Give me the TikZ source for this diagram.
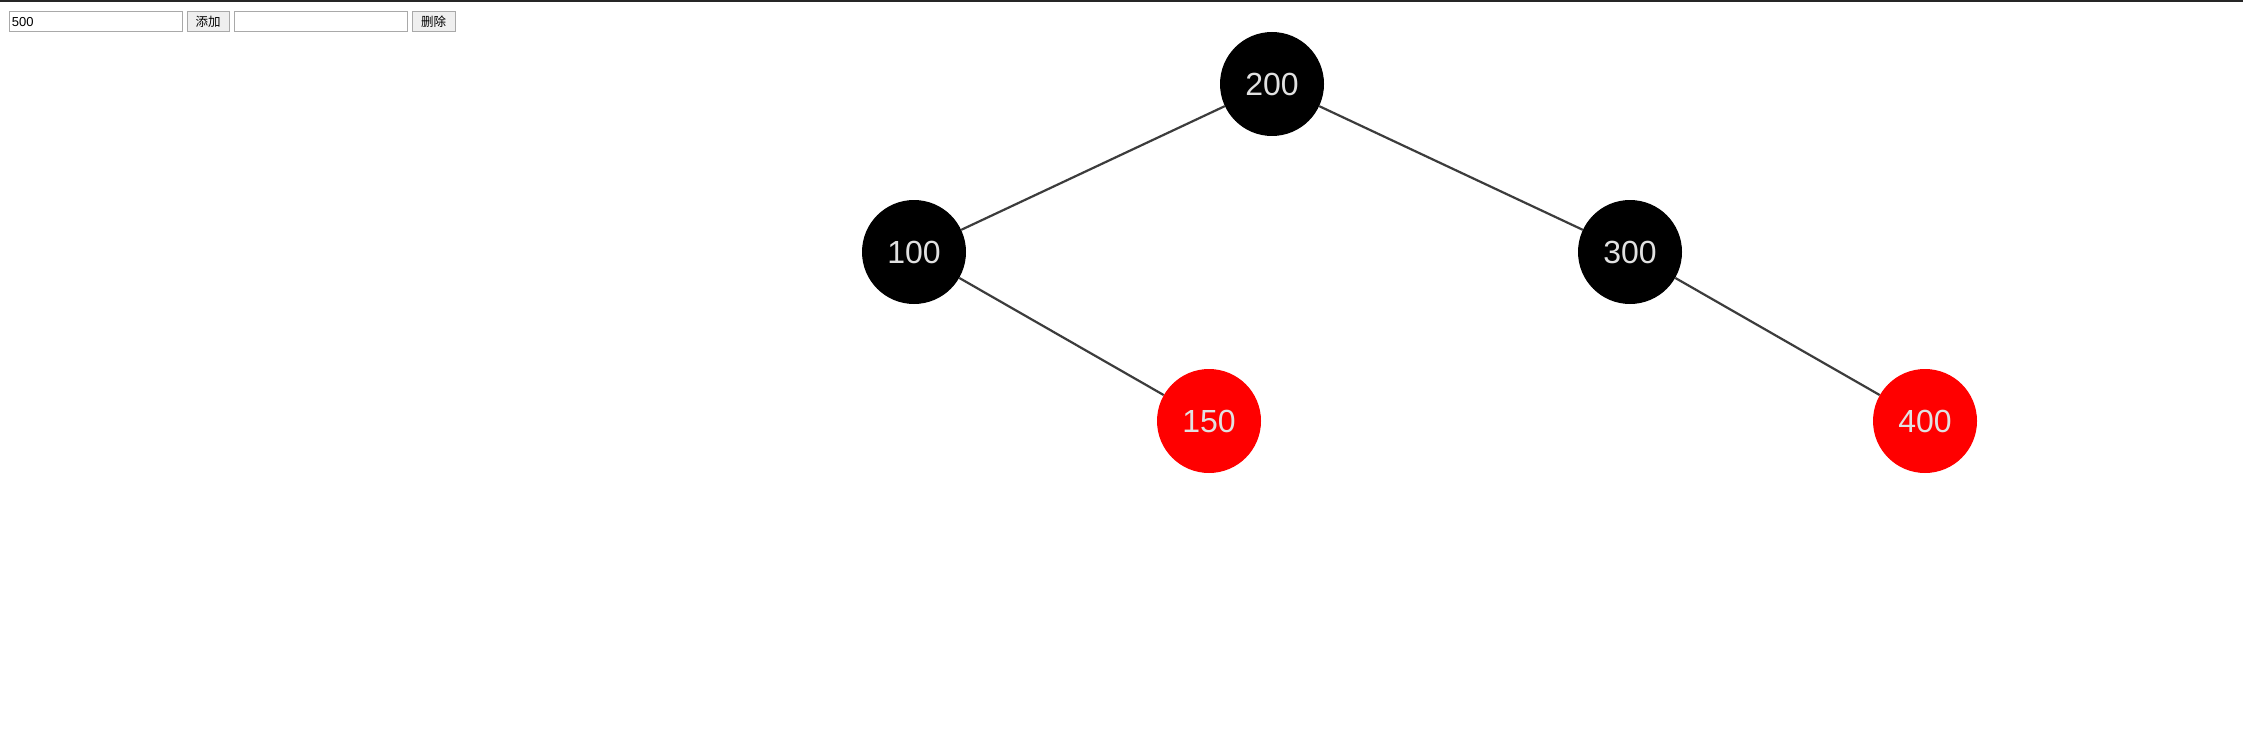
\documentclass[tikz,border=0pt]{standalone}
\usepackage{fontspec}
\setmainfont{Liberation Sans}
\newfontfamily\cjk{Noto Sans CJK SC}
\usetikzlibrary{backgrounds}
\definecolor{edgegray}{RGB}{60,60,60}
\definecolor{boxgray}{RGB}{169,169,169}
\definecolor{btnfill}{RGB}{239,239,239}
\definecolor{keytext}{RGB}{225,225,225}

\begin{document}
\begin{tikzpicture}[x=1pt,y=-1pt,
    rbnode/.style={circle,minimum size=104pt,inner sep=0pt,text=keytext,font=\fontsize{32}{32}\selectfont},
    blacknode/.style={rbnode,fill=black},
    rednode/.style={rbnode,fill=red},
    inputbox/.style={draw=boxgray,line width=1pt,fill=white,minimum width=173pt,minimum height=20pt,inner sep=2pt,text width=167pt,align=left,font=\fontsize{13}{13}\selectfont},
    btnbox/.style={draw=boxgray,line width=1pt,fill=btnfill,minimum height=20pt,inner sep=0pt,font=\cjk\fontsize{12.5}{13}\selectfont}]
            \useasboundingbox (0,0) rectangle (2243,741);
            \draw[line width=2pt,color=black!85] (0,1)--(2243,1);
            % form
            \node[inputbox] (valin) at (95.5,22){500};
            \node[btnbox,minimum width=42pt] (addbtn) at (208,22){添加};
            \node[inputbox] (delin) at (320.5,22){};
            \node[btnbox,minimum width=43pt] (delbtn) at (433.5,22){删除};
            % tree
            \node[blacknode] (n200) at (1272,84){200};
            \node[blacknode] (n100) at (914,252){100};
            \node[blacknode] (n300) at (1630,252){300};
            \node[rednode] (n150) at (1209,421){150};
            \node[rednode] (n400) at (1925,421){400};
            \begin{scope}[on background layer]
                \fill[white] (0,0) rectangle (2243,741);
                \foreach \a/\b in {n200/n100,n200/n300,n100/n150,n300/n400}{
                    \draw[line width=2.2pt,color=edgegray] (\a)--(\b);
                }
            \end{scope}
        \end{tikzpicture}
\end{document}
